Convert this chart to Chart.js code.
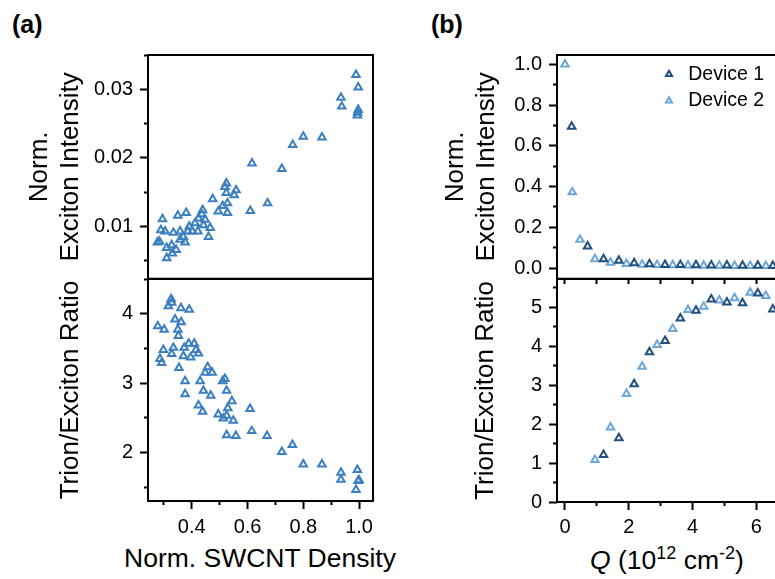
<!DOCTYPE html>
<html><head><meta charset="utf-8">
<script src="https://cdn.jsdelivr.net/npm/chart.js@4.4.1/dist/chart.umd.min.js"></script>
<style>
html,body{margin:0;padding:0;width:775px;height:579px;overflow:hidden;background:#fff;}
canvas{position:absolute;}
.lbl{position:absolute;font-family:'Liberation Sans',Arial,sans-serif;color:#000;white-space:nowrap;line-height:1;}
.sup{font-size:18px;position:relative;top:-10px;}
</style></head><body>
<div class="lbl" style="left:12px;top:12px;font-size:25px;font-weight:bold;">(a)</div>
<div class="lbl" style="left:431px;top:12px;font-size:25px;font-weight:bold;">(b)</div>
<div class="lbl" style="left:124px;top:545px;font-size:26.5px;">Norm. SWCNT Density</div>
<div class="lbl" style="left:590px;top:547px;font-size:26.5px;"><i>Q</i> (10<span class="sup">12</span> cm<span class="sup">-2</span>)</div>
<canvas id="a1" width="380" height="285" style="left:0;top:0"></canvas>
<canvas id="a2" width="380" height="309" style="left:0;top:270px"></canvas>
<canvas id="b1" width="440" height="285" style="left:400px;top:0"></canvas>
<canvas id="b2" width="440" height="309" style="left:400px;top:270px"></canvas>
<script>
// ---- data ----
const densityExc = [0.989,0.997,0.935,0.938,0.997,0.995,0.994,0.762,0.800,0.867,0.616,0.723,0.672,0.610,0.524,0.519,0.559,0.524,0.552,0.475,0.528,0.511,0.495,0.528,0.439,0.436,0.424,0.412,0.442,0.466,0.422,0.460,0.380,0.350,0.295,0.391,0.386,0.358,0.289,0.304,0.334,0.370,0.358,0.284,0.328,0.376,0.310,0.344,0.330,0.310,0.277,0.402,0.448];
const intensityExc = [0.0321,0.0303,0.0288,0.0275,0.0270,0.0266,0.0262,0.0219,0.0231,0.0230,0.0192,0.0184,0.0134,0.0123,0.0163,0.0158,0.0153,0.0149,0.0146,0.0140,0.0134,0.0130,0.0122,0.0120,0.0124,0.0118,0.0112,0.0105,0.0102,0.0098,0.0093,0.0085,0.0120,0.0116,0.0111,0.0100,0.0093,0.0093,0.0095,0.0093,0.0091,0.0085,0.0081,0.0078,0.0073,0.0077,0.0069,0.0066,0.0061,0.0054,0.0077,0.0093,0.0110];
const densityRatio = [0.326,0.328,0.316,0.361,0.391,0.340,0.362,0.278,0.301,0.350,0.352,0.298,0.334,0.328,0.373,0.389,0.409,0.415,0.424,0.370,0.396,0.286,0.292,0.354,0.457,0.473,0.448,0.430,0.376,0.442,0.468,0.376,0.519,0.511,0.525,0.424,0.439,0.544,0.529,0.495,0.525,0.513,0.549,0.609,0.615,0.525,0.558,0.670,0.723,0.761,0.800,0.867,0.935,0.935,0.994,0.997,0.989,1.000];
const ratioDensity = [4.21,4.16,4.11,4.08,4.06,3.92,3.88,3.82,3.77,3.77,3.68,3.48,3.51,3.42,3.51,3.57,3.57,3.48,3.43,3.39,3.37,3.35,3.29,3.22,3.23,3.15,3.15,3.03,3.03,2.89,2.82,2.84,3.06,3.03,2.89,2.68,2.59,2.74,2.64,2.55,2.53,2.49,2.46,2.63,2.31,2.25,2.24,2.24,2.01,2.11,1.83,1.83,1.71,1.61,1.75,1.59,1.46,1.60];

const seriesNames = ['Device 1','Device 2'];
const qDev1 = [0.21,0.71,1.21,1.69,2.17,2.65,3.14,3.62,4.11,4.59,5.08,5.57,6.05,6.52];
const excDev1 = [0.694,0.106,0.044,0.036,0.024,0.019,0.016,0.015,0.014,0.013,0.013,0.012,0.012,0.011];
const ratioDev1 = [null,null,1.21,1.64,3.03,3.85,4.14,4.72,4.92,5.21,5.13,5.11,5.36,4.95];
const qDev2 = [0.00,0.23,0.47,0.94,1.43,1.93,2.42,2.89,3.38,3.86,4.35,4.84,5.32,5.81,6.30];
const excDev2 = [1.000,0.372,0.139,0.044,0.027,0.021,0.017,0.015,0.014,0.013,0.012,0.012,0.011,0.011,0.010];
const ratioDev2 = [null,null,null,1.08,1.92,2.78,3.48,4.04,4.45,4.94,5.02,5.18,5.24,5.38,5.30];

// ---- styling ----
Chart.defaults.font.family = "'Liberation Sans', Arial, sans-serif";
Chart.defaults.color = '#000';
const COL_A = '#3b7fc0', COL_D1 = '#22507e', COL_D2 = '#6ca7da';
const TICK = 8, MINOR = 4;

const pts = (xs, ys) => xs.map((x, i) => ({x, y: ys[i]})).filter(p => p.y !== null);
const isMult = (v, s) => { const r = v / s; return Math.abs(r - Math.round(r)) < 1e-6; };
const zeroPad = s => { s.paddingTop = 0; s.paddingBottom = 0; s.paddingLeft = 0; s.paddingRight = 0; };

const frame = {
  id: 'frame',
  afterDatasetsDraw(chart) {
    const {ctx, chartArea: a} = chart;
    ctx.save(); ctx.strokeStyle = '#000'; ctx.lineWidth = 2;
    ctx.strokeRect(a.left, a.top, a.right - a.left, a.bottom - a.top);
    ctx.restore();
  }
};

function yAxis(o) {
  return {
    type: 'linear', position: 'left', min: o.min, max: o.max,
    ticks: {stepSize: o.minor, autoSkip: false, includeBounds: false, padding: 7, font: {size: 20}, color: '#000',
      callback: v => isMult(v, o.major) ? o.fmt(v) : ''},
    grid: {drawOnChartArea: false, drawTicks: true, tickLength: TICK, tickWidth: 2, tickColor: '#000',
      tickBorderDash: c => (c.tick && !isMult(c.tick.value, o.major)) ? [0, TICK - MINOR, MINOR, 100] : []},
    border: {display: false},
    title: {display: true, text: o.title, font: {size: 26, lineHeight: 1.2}, padding: {top: o.titlePad, bottom: 0}, color: '#000'},
    afterFit: s => { s.width = o.width; zeroPad(s); }
  };
}
function xAxis(o) {
  return {
    type: 'linear', position: 'bottom', min: o.min, max: o.max, display: o.display,
    ticks: {stepSize: o.minor, autoSkip: false, includeBounds: false, padding: o.pad, font: {size: 20}, color: '#000', maxRotation: 0,
      callback: v => isMult(v, o.major) ? o.fmt(v) : ''},
    grid: {drawOnChartArea: false, drawTicks: true, tickLength: TICK, tickWidth: 2, tickColor: '#000',
      tickBorderDash: c => (c.tick && !isMult(c.tick.value, o.major)) ? [MINOR, 100] : []},
    border: {display: false},
    title: {display: false},
    afterFit: s => { s.height = o.height; zeroPad(s); }
  };
}
const ds = (label, data, color) => ({label, data, pointStyle: 'triangle', pointRadius: 4.3, pointHoverRadius: 4.3,
  pointBorderWidth: 2, borderWidth: 2, borderColor: color, backgroundColor: 'rgba(0,0,0,0)', showLine: false});
const base = padding => ({responsive: false, animation: false, events: [], layout: {padding},
  plugins: {legend: {display: false}, tooltip: {enabled: false}}});

const xA = {min: 0.243, max: 1.05, minor: 0.1, major: 0.2, fmt: v => v.toFixed(1)};
const xB = {min: -0.25, max: 8, minor: 1, major: 2, fmt: v => String(v)};

// (a) top
new Chart(document.getElementById('a1'), {
  type: 'scatter',
  data: {datasets: [ds('a', pts(densityExc, intensityExc), COL_A)]},
  options: Object.assign(base({left: 0, top: 55, right: 7, bottom: 6}), {
    scales: {
      x: xAxis(Object.assign({}, xA, {display: false, height: 0, pad: 6})),
      y: yAxis({min: 0.0024, max: 0.035, minor: 0.005, major: 0.01, fmt: v => v.toFixed(2),
        title: ['Norm.', 'Exciton Intensity'], titlePad: 24, width: 148})
    }
  }),
  plugins: [frame]
});
// (a) bottom
new Chart(document.getElementById('a2'), {
  type: 'scatter',
  data: {datasets: [ds('a', pts(densityRatio, ratioDensity), COL_A)]},
  options: Object.assign(base({left: 0, top: 9, right: 7, bottom: 0}), {
    scales: {
      x: xAxis(Object.assign({}, xA, {display: true, height: 78, pad: 6})),
      y: yAxis({min: 1.3, max: 4.5, minor: 0.5, major: 1, fmt: v => String(v),
        title: 'Trion/Exciton Ratio', titlePad: 55, width: 148})
    }
  }),
  plugins: [frame]
});
// (b) top
const legendMove = {
  id: 'legendMove',
  afterLayout(chart) {
    const lg = chart.legend; if (!lg) return;
    lg.left = 252.5; lg.top = 57.5; lg.right = lg.left + lg.width; lg.bottom = lg.top + 200;
  }
};
const optB1 = base({left: 0, top: 55, right: 20, bottom: 6});
optB1.plugins.legend = {display: true, position: 'chartArea', align: 'start', fullSize: false,
  labels: {usePointStyle: true, boxWidth: 19, boxHeight: 5, padding: 7, font: {size: 19.5}, color: '#000'}};
optB1.scales = {
  x: xAxis(Object.assign({}, xB, {display: false, height: 0, pad: 5})),
  y: yAxis({min: -0.0525, max: 1.0456, minor: 0.1, major: 0.2, fmt: v => v.toFixed(1),
    title: ['Norm.', 'Exciton Intensity'], titlePad: 40, width: 157})
};
new Chart(document.getElementById('b1'), {
  type: 'scatter',
  data: {datasets: [ds(seriesNames[0], pts(qDev1, excDev1), COL_D1), ds(seriesNames[1], pts(qDev2, excDev2), COL_D2)]},
  options: optB1,
  plugins: [frame, legendMove]
});
// (b) bottom
const optB2 = base({left: 0, top: 9, right: 20, bottom: 0});
optB2.scales = {
  x: xAxis(Object.assign({}, xB, {display: true, height: 77, pad: 5})),
  xTop: {type: 'linear', position: 'top', min: xB.min, max: xB.max,
    ticks: {stepSize: 1, display: false, autoSkip: false, includeBounds: false},
    grid: {drawOnChartArea: false, drawTicks: true, tickLength: -5, tickWidth: 2, tickColor: '#000'},
    border: {display: false},
    afterFit: s => { s.height = 0; zeroPad(s); }},
  y: yAxis({min: 0, max: 5.73, minor: 0.5, major: 1, fmt: v => String(v),
    title: 'Trion/Exciton Ratio', titlePad: 70, width: 157})
};
new Chart(document.getElementById('b2'), {
  type: 'scatter',
  data: {datasets: [ds(seriesNames[0], pts(qDev1, ratioDev1), COL_D1), ds(seriesNames[1], pts(qDev2, ratioDev2), COL_D2)]},
  options: optB2,
  plugins: [frame]
});
</script>
</body></html>
